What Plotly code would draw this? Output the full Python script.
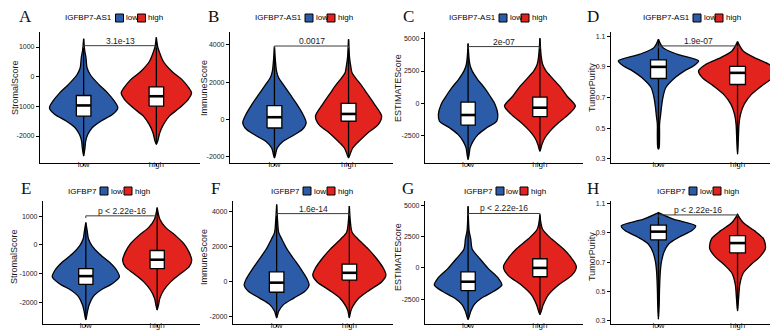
import plotly.graph_objects as go

# ---------------- data ----------------
groups = ["low", "high"]
group_pos = [0, 1]
panel_letters = ["A", "B", "C", "D", "E", "F", "G", "H"]
gene_names = ["IGFBP7-AS1"] * 4 + ["IGFBP7"] * 4
score_names = ["StromalScore", "ImmuneScore", "ESTIMATEScore", "TumorPurity"] * 2
p_labels = ["3.1e-13", "0.0017", "2e-07", "1.9e-07",
            "p < 2.22e-16", "1.6e-14", "p < 2.22e-16", "p < 2.22e-16"]
bracket_y = [1045, 3930, 4390, 1.037, 1012, 3860, 4370, 1.023]

y_ranges = [[-2910, 1506], [-2322, 4680], [-4611, 5518], [0.272, 1.128],
            [-2760, 1530], [-2400, 4575], [-4500, 5371], [0.279, 1.118]]
ticks_stromal = [-2000, -1000, 0, 1000]
ticks_stromal_text = ["-2000", "-1000", "0", "1000"]
ticks_immune = [-2000, 0, 2000, 4000]
ticks_immune_text = ["-2000", "0", "2000", "4000"]
ticks_estimate = [-2500, 0, 2500, 5000]
ticks_estimate_text = ["-2500", "0", "2500", "5000"]
ticks_purity = [0.3, 0.5, 0.7, 0.9, 1.1]
ticks_purity_text = ["0.3", "0.5", "0.7", "0.9", "1.1"]

# violin density profiles (value levels, relative density) and box stats [q1, median, q3]
A_low_y = [-2670, -2390, -2170, -1950, -1720, -1500, -1270, -1050, -825, -545, -270, 56, 300, 630, 900, 1280]
A_low_d = [0, 0.04, 0.06, 0.12, 0.25, 0.50, 0.85, 1.00, 0.90, 0.70, 0.45, 0.20, 0.10, 0.07, 0.03, 0]
A_low_box = [-1330, -970, -635]
A_high_y = [-2280, -2170, -1890, -1610, -1330, -1050, -770, -545, -380, -100, 183, 520, 854, 1000, 1325]
A_high_d = [0, 0.04, 0.10, 0.21, 0.38, 0.68, 0.93, 1.03, 0.95, 0.75, 0.45, 0.20, 0.08, 0.04, 0]
A_high_box = [-995, -660, -345]

B_low_y = [-2050, -1875, -1520, -1160, -890, -535, -180, 270, 800, 1340, 1875, 2230, 2590, 3100, 3900]
B_low_d = [0, 0.03, 0.08, 0.25, 0.50, 0.80, 0.91, 0.82, 0.65, 0.45, 0.25, 0.12, 0.06, 0.03, 0]
B_low_box = [-450, 125, 750]
B_high_y = [-2050, -1875, -1520, -1160, -715, -270, 180, 800, 1340, 1875, 2230, 2500, 2770, 3300, 4290]
B_high_d = [0, 0.04, 0.12, 0.30, 0.55, 0.85, 0.95, 0.75, 0.55, 0.35, 0.20, 0.10, 0.07, 0.03, 0]
B_high_box = [-90, 300, 860]

C_low_y = [-4340, -3955, -3440, -2920, -2400, -1890, -1370, -850, -80, 570, 1215, 1860, 2510, 3025, 4630]
C_low_d = [0, 0.03, 0.06, 0.15, 0.30, 0.55, 0.85, 0.88, 0.80, 0.65, 0.48, 0.28, 0.12, 0.05, 0]
C_low_box = [-1680, -900, 100]
C_high_y = [-3700, -3180, -2660, -2145, -1500, -850, -205, 570, 1215, 1860, 2510, 3025, 3600, 5040]
C_high_d = [0, 0.06, 0.15, 0.30, 0.55, 0.85, 1.05, 0.80, 0.62, 0.40, 0.18, 0.08, 0.04, 0]
C_high_box = [-1030, -335, 490]

D_low_y = [0.363, 0.374, 0.46, 0.526, 0.59, 0.635, 0.70, 0.765, 0.830, 0.874, 0.907, 0.939, 0.983, 1.026, 1.08]
D_low_d = [0, 0.02, 0.03, 0.03, 0.06, 0.08, 0.12, 0.20, 0.45, 0.70, 0.95, 1.08, 0.50, 0.12, 0]
D_low_box = [0.824, 0.900, 0.946]
D_high_y = [0.33, 0.417, 0.526, 0.59, 0.657, 0.722, 0.776, 0.83, 0.874, 0.917, 0.961, 1.004, 1.065]
D_high_d = [0, 0.02, 0.04, 0.08, 0.18, 0.38, 0.65, 0.95, 1.05, 0.85, 0.45, 0.15, 0]
D_high_box = [0.785, 0.861, 0.904]

E_low_y = [-2610, -2320, -2090, -1805, -1575, -1345, -1115, -885, -600, -310, -23, 207, 500, 780]
E_low_d = [0, 0.05, 0.10, 0.22, 0.45, 0.80, 1.00, 0.92, 0.70, 0.40, 0.18, 0.08, 0.04, 0]
E_low_box = [-1380, -1090, -830]
E_high_y = [-2265, -2090, -1860, -1575, -1290, -1000, -770, -540, -253, 35, 322, 610, 897, 1300]
E_high_d = [0, 0.04, 0.08, 0.20, 0.40, 0.70, 0.95, 1.03, 0.95, 0.80, 0.55, 0.25, 0.08, 0]
E_high_box = [-830, -518, -196]

F_low_y = [-2050, -1680, -1300, -930, -560, -186, 186, 745, 1300, 1860, 2420, 2800, 3400, 4380]
F_low_d = [0, 0.06, 0.20, 0.50, 0.82, 0.95, 0.88, 0.70, 0.50, 0.30, 0.15, 0.06, 0.03, 0]
F_low_box = [-600, -56, 560]
F_high_y = [-2050, -1680, -1400, -930, -466, 0, 373, 745, 1300, 1860, 2420, 2800, 3400, 4290]
F_high_d = [0, 0.04, 0.10, 0.28, 0.60, 0.95, 1.07, 1.00, 0.80, 0.55, 0.25, 0.08, 0.03, 0]
F_high_box = [93, 503, 990]

G_low_y = [-4130, -3470, -2945, -2420, -1895, -1370, -840, -53, 736, 1525, 2315, 3000, 4950]
G_low_d = [0, 0.08, 0.18, 0.40, 0.75, 1.00, 0.90, 0.60, 0.35, 0.12, 0.08, 0.03, 0]
G_low_box = [-1815, -1105, -316]
G_high_y = [-3735, -2945, -2160, -1370, -580, 80, 736, 1525, 2315, 3100, 4290]
G_high_d = [0, 0.10, 0.25, 0.55, 0.95, 1.08, 0.95, 0.70, 0.35, 0.08, 0]
G_high_box = [-710, 0, 736]

H_low_y = [0.312, 0.413, 0.524, 0.636, 0.703, 0.77, 0.826, 0.871, 0.916, 0.949, 0.994, 1.039]
H_low_d = [0, 0.02, 0.03, 0.05, 0.08, 0.15, 0.28, 0.55, 0.90, 1.00, 0.40, 0]
H_low_box = [0.853, 0.909, 0.954]
H_high_y = [0.368, 0.458, 0.547, 0.625, 0.681, 0.737, 0.793, 0.86, 0.916, 0.971, 1.027]
H_high_d = [0, 0.03, 0.06, 0.15, 0.35, 0.60, 0.75, 0.70, 0.45, 0.15, 0]
H_high_box = [0.764, 0.831, 0.882]

# ---------------- assemble ----------------
panels = [
    ((A_low_y, A_low_d, A_low_box), (A_high_y, A_high_d, A_high_box)),
    ((B_low_y, B_low_d, B_low_box), (B_high_y, B_high_d, B_high_box)),
    ((C_low_y, C_low_d, C_low_box), (C_high_y, C_high_d, C_high_box)),
    ((D_low_y, D_low_d, D_low_box), (D_high_y, D_high_d, D_high_box)),
    ((E_low_y, E_low_d, E_low_box), (E_high_y, E_high_d, E_high_box)),
    ((F_low_y, F_low_d, F_low_box), (F_high_y, F_high_d, F_high_box)),
    ((G_low_y, G_low_d, G_low_box), (G_high_y, G_high_d, G_high_box)),
    ((H_low_y, H_low_d, H_low_box), (H_high_y, H_high_d, H_high_box)),
]
tick_sets = [(ticks_stromal, ticks_stromal_text), (ticks_immune, ticks_immune_text),
             (ticks_estimate, ticks_estimate_text), (ticks_purity, ticks_purity_text)] * 2

# ---------------- style / layout ----------------
W, H = 778, 330
COLORS = ["#2C5CA8", "#E2231E"]
HALF_W = 0.47
BOX_HALF = 0.1
SANS = "Liberation Sans, Arial, sans-serif"
SERIF = "Liberation Serif, Times New Roman, serif"
TXT = "#1a1a1a"

x_dom_px = [(32, 192), (222, 385), (417, 575), (603, 777),
            (35, 192), (225, 385), (417, 575), (603, 777)]
y_dom_px = [(24, 155)] * 4 + [(193, 316)] * 4
letter_px = [(17, 9), (205, 9), (400, 9), (585, 9), (18, 180), (207, 180), (400, 180), (585, 180)]
ytitle_px = [(7, 80), (196, 80), (390, 80), (584, 80), (6, 249), (196, 249), (390, 249), (584, 249)]
legend_y_px = [10] * 4 + [183] * 4
sq1_left_px = [107.5, 297, 491, 685, 92, 295, 488, 681]
sq_step_px = [22] * 4 + [24] * 4


def px2x(p):
    return p / W


def px2y(p):
    return 1 - p / H


fig = go.Figure()
annotations = []
shapes = []

for i, (panel, (tv, tt)) in enumerate(zip(panels, tick_sets)):
    n = "" if i == 0 else str(i + 1)
    xa, ya = "x" + n, "y" + n
    for g, (vy, vd, vb) in enumerate(panel):
        c = group_pos[g]
        xs = [c + d * HALF_W for d in vd] + [c - d * HALF_W for d in reversed(vd)]
        ys = list(vy) + list(reversed(vy))
        fig.add_trace(go.Scatter(x=xs, y=ys, mode="lines", fill="toself",
                                 fillcolor=COLORS[g], line=dict(color="black", width=1.3, shape="spline", smoothing=0.8),
                                 xaxis=xa, yaxis=ya, hoverinfo="skip", showlegend=False))
        fig.add_trace(go.Scatter(x=[c, c], y=[vy[0], vy[-1]], mode="lines",
                                 line=dict(color="black", width=1.3),
                                 xaxis=xa, yaxis=ya, hoverinfo="skip", showlegend=False))
        q1, med, q3 = vb
        fig.add_trace(go.Scatter(x=[c - BOX_HALF, c + BOX_HALF, c + BOX_HALF, c - BOX_HALF, c - BOX_HALF],
                                 y=[q1, q1, q3, q3, q1], mode="lines", fill="toself",
                                 fillcolor="white", line=dict(color="black", width=1.3),
                                 xaxis=xa, yaxis=ya, hoverinfo="skip", showlegend=False))
        fig.add_trace(go.Scatter(x=[c - BOX_HALF, c + BOX_HALF], y=[med, med], mode="lines",
                                 line=dict(color="black", width=2.6),
                                 xaxis=xa, yaxis=ya, hoverinfo="skip", showlegend=False))
    yr = y_ranges[i]
    tick = (yr[1] - yr[0]) * 0.018
    b = bracket_y[i]
    fig.add_trace(go.Scatter(x=[group_pos[0], group_pos[0], group_pos[1], group_pos[1]],
                             y=[b - tick, b, b, b - tick], mode="lines",
                             line=dict(color="#3a3a3a", width=1),
                             xaxis=xa, yaxis=ya, hoverinfo="skip", showlegend=False))
    annotations.append(dict(x=(group_pos[0] + group_pos[1]) / 2, y=b, xref=xa, yref=ya,
                            text=p_labels[i], showarrow=False, yanchor="bottom", yshift=-2,
                            font=dict(family=SANS, size=8.5, color=TXT)))

    x0, x1 = x_dom_px[i]
    yt, yb = y_dom_px[i]
    fig.update_layout(**{
        "xaxis" + n: dict(domain=[px2x(x0), px2x(x1)], range=[-0.6, 1.6], anchor=ya,
                          tickvals=group_pos, ticktext=groups, showline=True, linecolor="black",
                          linewidth=1.2, ticks="outside", ticklen=2, tickcolor="black", tickwidth=1,
                          ticklabelstandoff=-9,
                          showgrid=False, zeroline=False, fixedrange=True,
                          tickfont=dict(family=SANS, size=8, color=TXT)),
        "yaxis" + n: dict(domain=[px2y(yb), px2y(yt)], range=yr, anchor=xa,
                          tickvals=tv, ticktext=tt, showline=True, linecolor="black",
                          linewidth=1.2, ticks="outside", ticklen=3, tickcolor="black", tickwidth=1,
                          showgrid=False, zeroline=False, fixedrange=True,
                          tickfont=dict(family=SANS, size=7, color=TXT)),
    })

    lx, ly = letter_px[i]
    annotations.append(dict(x=px2x(lx), y=px2y(ly), xref="paper", yref="paper", text=panel_letters[i],
                            showarrow=False, xanchor="center", yanchor="middle",
                            font=dict(family=SERIF, size=17, color="#111")))
    tx, ty = ytitle_px[i]
    annotations.append(dict(x=px2x(tx), y=px2y(ty), xref="paper", yref="paper", text=score_names[i],
                            showarrow=False, textangle=-90, xanchor="center", yanchor="middle",
                            font=dict(family=SANS, size=9, color=TXT)))
    s1 = sq1_left_px[i]
    s2 = s1 + sq_step_px[i]
    lyc = legend_y_px[i]
    annotations.append(dict(x=px2x(s1 - 1.5), y=px2y(lyc), xref="paper", yref="paper", text=gene_names[i],
                            showarrow=False, xanchor="right", yanchor="middle",
                            font=dict(family=SANS, size=8, color="black")))
    for g, sx in enumerate([s1, s2]):
        shapes.append(dict(type="rect", xref="paper", yref="paper",
                           x0=px2x(sx), x1=px2x(sx + 8), y0=px2y(lyc + 4), y1=px2y(lyc - 4),
                           fillcolor=COLORS[g], line=dict(color="black", width=1)))
        annotations.append(dict(x=px2x(sx + 8.5), y=px2y(lyc), xref="paper", yref="paper", text=groups[g],
                                showarrow=False, xanchor="left", yanchor="middle",
                                font=dict(family=SANS, size=8, color="black")))

fig.update_layout(width=W, height=H, margin=dict(l=0, r=0, t=0, b=0),
                  paper_bgcolor="white", plot_bgcolor="white",
                  annotations=annotations, shapes=shapes, showlegend=False)

fig.write_html("out.html")
